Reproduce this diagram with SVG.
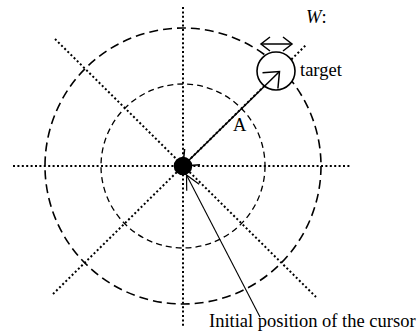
<svg xmlns="http://www.w3.org/2000/svg" width="418" height="332" viewBox="0 0 418 332">
<style>
.dot{fill:none;stroke:#000;stroke-width:2;stroke-dasharray:2 2.4}
.dash1{fill:none;stroke:#000;stroke-width:1.6;stroke-dasharray:9 5}
.dash2{fill:none;stroke:#000;stroke-width:1.3;stroke-dasharray:6 4}
.lbl{font-family:"Liberation Serif","Times New Roman",serif;font-size:18.5px;fill:#000}
</style>
<defs>
<marker id="open" markerUnits="userSpaceOnUse" markerWidth="40" markerHeight="40" viewBox="-20 -20 40 40" refX="0" refY="0" orient="auto-start-reverse" overflow="visible">
<path d="M-13,-11 L0,0 L-13,11" fill="none" stroke="#000" stroke-width="1.5"/>
</marker>
<marker id="openThin" markerUnits="userSpaceOnUse" markerWidth="40" markerHeight="40" viewBox="-20 -20 40 40" refX="0" refY="0" orient="auto" overflow="visible">
<path d="M-14,-7 L0,0 L-14,7" fill="none" stroke="#000" stroke-width="1.2"/>
</marker>
<marker id="small" markerUnits="userSpaceOnUse" markerWidth="20" markerHeight="20" viewBox="-10 -10 20 20" refX="0" refY="0" orient="auto-start-reverse" overflow="visible">
<path d="M-9,-7 L0,0 L-9,7" fill="none" stroke="#000" stroke-width="1.5"/>
</marker>
</defs>
<g id="grid">
<line class="dot" x1="13" y1="166" x2="351" y2="166"/>
<line class="dot" x1="183" y1="7" x2="183" y2="328"/>
<line class="dot" x1="55" y1="39" x2="316" y2="297"/>
<line class="dot" x1="53" y1="294" x2="307" y2="44"/>
</g>
<g id="circles">
<circle class="dash1" cx="183" cy="166" r="138"/>
<circle class="dash2" cx="183" cy="166" r="82"/>
</g>
<g id="target">
<circle cx="276" cy="71" r="19" fill="#fff" stroke="#000" stroke-width="1.6"/>
<text class="lbl" x="300" y="76">target</text>
</g>
<g id="width">
<line x1="261" y1="44" x2="292" y2="44" stroke="#000" stroke-width="1.5" marker-start="url(#small)" marker-end="url(#small)"/>
<text class="lbl" x="306" y="23"><tspan font-style="italic">W</tspan>:</text>
</g>
<g id="cursor">
<circle cx="183" cy="166" r="9.3" fill="#000"/>
</g>
<g id="connectors">
<line x1="183" y1="166" x2="279.5" y2="71.5" stroke="#000" stroke-width="1.5" marker-start="url(#open)" marker-end="url(#open)"/>
<line x1="260" y1="317" x2="186.5" y2="175" stroke="#000" stroke-width="1.1" marker-end="url(#openThin)"/>
</g>
<g id="labels">
<text class="lbl" x="233" y="131">A</text>
<text class="lbl" x="209" y="327">Initial position of the cursor</text>
</g>
</svg>
